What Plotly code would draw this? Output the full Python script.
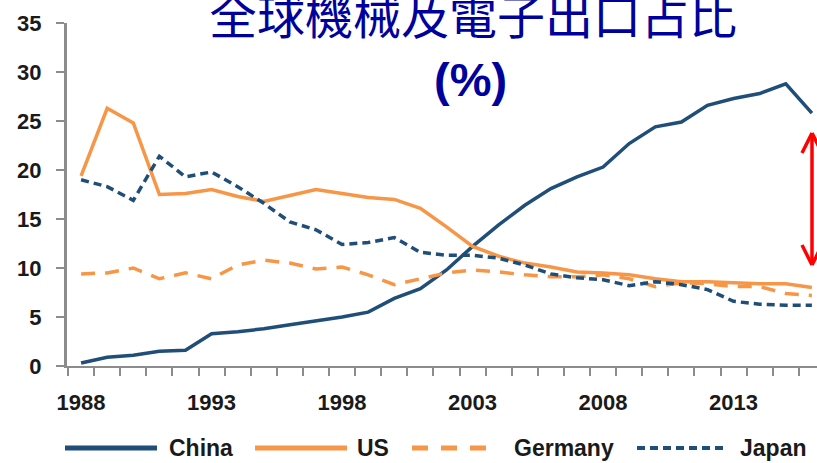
import plotly.graph_objects as go

years = list(range(1988, 2017))
china = [0.3, 0.9, 1.1, 1.5, 1.6, 3.3, 3.5, 3.8, 4.2, 4.6, 5.0, 5.5, 6.9, 7.9, 9.8,
         12.2, 14.4, 16.4, 18.1, 19.3, 20.3, 22.7, 24.4, 24.9, 26.6, 27.3, 27.8, 28.8, 25.8]
us = [19.4, 26.3, 24.8, 17.5, 17.6, 18.0, 17.3, 16.8, 17.4, 18.0, 17.6, 17.2, 17.0, 16.1, 14.2,
      12.2, 11.2, 10.5, 10.1, 9.6, 9.5, 9.3, 8.9, 8.6, 8.6, 8.5, 8.4, 8.4, 8.0]
germany = [9.4, 9.5, 10.0, 8.9, 9.5, 8.9, 10.3, 10.8, 10.5, 9.9, 10.1, 9.3, 8.3, 8.9, 9.5,
           9.8, 9.6, 9.3, 9.1, 9.1, 9.3, 8.9, 8.1, 8.5, 8.4, 8.1, 8.1, 7.4, 7.2]
japan = [19.0, 18.3, 16.9, 21.4, 19.3, 19.8, 18.3, 16.6, 14.7, 13.9, 12.4, 12.6, 13.1, 11.6, 11.3,
         11.3, 11.0, 10.3, 9.4, 9.0, 8.8, 8.2, 8.6, 8.3, 7.8, 6.6, 6.3, 6.2, 6.2]
series_names = ["China", "US", "Germany", "Japan"]
label_years = [1988, 1993, 1998, 2003, 2008, 2013]
y_ticks = [0, 5, 10, 15, 20, 25, 30, 35]

NAVY = "#1F4E79"
ORANGE = "#F79646"
TXT = "#1a1a1a"
GREY = "#8c8c8c"
SANS = "Liberation Sans, Arial, sans-serif"

W, H = 817, 463
L, R, T, B = 67, 0, 23, 97
PW, PH = W - L - R, H - T - B

def px(x):
    return (x - L) / PW

def py(y):
    return (H - B - y) / PH

styles = [
    dict(color=NAVY, width=3.5, dash="solid"),
    dict(color=ORANGE, width=3.5, dash="solid"),
    dict(color=ORANGE, width=3.5, dash="14px,10px"),
    dict(color=NAVY, width=3.5, dash="8px,5px"),
]

fig = go.Figure()
for name, vals, st in zip(series_names, [china, us, germany, japan], styles):
    fig.add_trace(go.Scatter(x=years, y=vals, mode="lines", name=name, line=st,
                             showlegend=False, cliponaxis=False, hoverinfo="skip"))

minor_vals = [y - 0.5 for y in years] + [years[-1] + 0.5]

fig.update_layout(
    width=W, height=H,
    margin=dict(l=L, r=R, t=T, b=B, pad=0),
    plot_bgcolor="white", paper_bgcolor="white",
    xaxis=dict(
        range=[1987.46, 1987.46 + PW / 26.1],
        tickmode="array", tickvals=label_years, ticktext=[str(y) for y in label_years],
        ticks="", showgrid=False, zeroline=False,
        showline=True, linecolor=GREY, linewidth=2,
        tickfont=dict(family=SANS, size=22, color=TXT, weight="bold"),
        ticklabelstandoff=16,
        minor=dict(tickmode="array", tickvals=minor_vals, ticks="outside", ticklen=8,
                   tickcolor=GREY, tickwidth=2, showgrid=False),
    ),
    yaxis=dict(
        range=[0, 35], tickmode="array", tickvals=y_ticks,
        ticks="outside", ticklen=8, tickcolor=GREY, tickwidth=2,
        showgrid=False, zeroline=False,
        showline=True, linecolor=GREY, linewidth=3,
        tickfont=dict(family=SANS, size=22, color=TXT, weight="bold"),
        ticklabelstandoff=10,
    ),
)

# Title
fig.add_annotation(text="全球機械及電子出口占比", xref="paper", yref="paper",
                   x=px(473), y=py(13), xanchor="center", yanchor="middle", showarrow=False,
                   font=dict(family="Noto Sans CJK TC", size=48, color="#00009C"))
fig.add_annotation(text="<b>(%)</b>", xref="paper", yref="paper",
                   x=px(471), y=py(80), xanchor="center", yanchor="middle", showarrow=False,
                   font=dict(family=SANS, size=47, color="#00009C"))

# Red double arrow
ax_x, top_y, bot_y = 812, 133, 265
red = dict(color="#FF0000", width=3.5)
fig.add_shape(type="line", xref="paper", yref="paper", x0=px(ax_x), x1=px(ax_x),
              y0=py(top_y), y1=py(bot_y), line=red)
for tip, d in [(top_y, 20), (bot_y, -20)]:
    for dx in (-10, 10):
        fig.add_shape(type="line", xref="paper", yref="paper",
                      x0=px(ax_x), y0=py(tip), x1=px(ax_x + dx), y1=py(tip + d), line=red)

# Custom legend
leg_y = 448
legend_items = [
    (65, 157, 167, "China", dict(color=NAVY, width=5, dash="solid")),
    (255, 347, 355, "US", dict(color=ORANGE, width=5, dash="solid")),
    (412, 490, 512, "Germany", dict(color=ORANGE, width=5, dash="16px,13px")),
    (637, 728, 738, "Japan", dict(color=NAVY, width=4, dash="8px,5px")),
]
for x0, x1, tx, name, st in legend_items:
    fig.add_shape(type="line", xref="paper", yref="paper", x0=px(x0), x1=px(x1),
                  y0=py(leg_y), y1=py(leg_y), line=st)
    fig.add_annotation(text=name, xref="paper", yref="paper", x=px(tx), y=py(leg_y),
                       xanchor="left", yanchor="middle", showarrow=False,
                       font=dict(family=SANS, size=23, color=TXT, weight="bold"))

fig.write_html("out.html", config={"displayModeBar": False},
               post_script="document.body.style.margin='0';document.body.style.overflow='hidden';")
